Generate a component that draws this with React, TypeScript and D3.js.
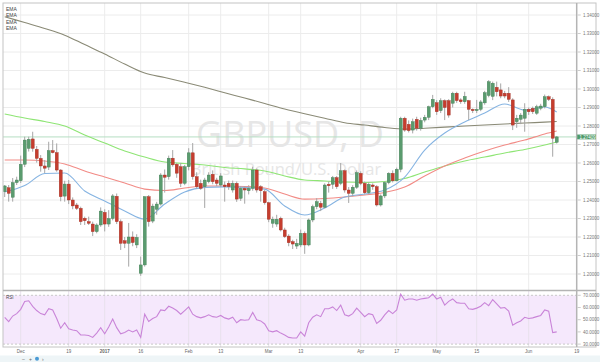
import React from 'react';
import * as d3 from 'd3';

// ---- Daily candles (index 0 = 25 Nov 2016 ... 138 = 12 Jun 2017) ----
const opens = [
  1.2445, 1.2466, 1.2415, 1.2494, 1.2504, 1.2593, 1.2679, 1.2730, 1.2674, 1.2625,
  1.2584, 1.2578, 1.2667, 1.2656, 1.2562, 1.2421, 1.2486, 1.2400, 1.2373, 1.2355,
  1.2301, 1.2283, 1.2270, 1.2229, 1.2265, 1.2333, 1.2270, 1.2300, 1.2420, 1.2283,
  1.2180, 1.2166, 1.2200, 1.2157, 1.2004, 1.2049, 1.2418, 1.2286, 1.2350, 1.2378,
  1.2535, 1.2526, 1.2626, 1.2593, 1.2580, 1.2490, 1.2580, 1.2655, 1.2526, 1.2490,
  1.2472, 1.2499, 1.2539, 1.2508, 1.2481, 1.2481, 1.2490, 1.2454, 1.2490, 1.2409,
  1.2463, 1.2450, 1.2463, 1.2562, 1.2472, 1.2445, 1.2385, 1.2274, 1.2270, 1.2301,
  1.2238, 1.2205, 1.2175, 1.2151, 1.2157, 1.2220, 1.2157, 1.2292, 1.2364, 1.2382,
  1.2361, 1.2485, 1.2485, 1.2521, 1.2490, 1.2558, 1.2454, 1.2436, 1.2469, 1.2544,
  1.2490, 1.2439, 1.2481, 1.2472, 1.2373, 1.2422, 1.2494, 1.2544, 1.2504, 1.2566,
  1.2842, 1.2809, 1.2778, 1.2836, 1.2788, 1.2832, 1.2847, 1.2904, 1.2926, 1.2883,
  1.2937, 1.2937, 1.2923, 1.2977, 1.2941, 1.2931, 1.2937, 1.2890, 1.2883, 1.2890,
  1.2925, 1.2965, 1.2960, 1.3009, 1.2995, 1.2977, 1.2977, 1.2941, 1.2823, 1.2836,
  1.2842, 1.2890, 1.2895, 1.2869, 1.2896, 1.2904, 1.2958, 1.2944, 1.2712,
];
const highs = [
  1.2481, 1.2481, 1.2519, 1.2526, 1.2640, 1.2742, 1.2742, 1.2769, 1.2692, 1.2643,
  1.2616, 1.2715, 1.2724, 1.2706, 1.2567, 1.2504, 1.2508, 1.2414, 1.2384, 1.2364,
  1.2310, 1.2310, 1.2283, 1.2274, 1.2360, 1.2350, 1.2345, 1.2432, 1.2435, 1.2295,
  1.2200, 1.2276, 1.2230, 1.2215, 1.2094, 1.2420, 1.2427, 1.2380, 1.2390, 1.2545,
  1.2565, 1.2640, 1.2670, 1.2600, 1.2600, 1.2590, 1.2680, 1.2708, 1.2550, 1.2510,
  1.2520, 1.2550, 1.2560, 1.2520, 1.2545, 1.2500, 1.2505, 1.2505, 1.2500, 1.2475,
  1.2475, 1.2480, 1.2580, 1.2570, 1.2480, 1.2455, 1.2390, 1.2310, 1.2320, 1.2310,
  1.2250, 1.2215, 1.2185, 1.2190, 1.2240, 1.2230, 1.2300, 1.2375, 1.2410, 1.2395,
  1.2490, 1.2500, 1.2530, 1.2530, 1.2600, 1.2565, 1.2470, 1.2480, 1.2560, 1.2555,
  1.2500, 1.2495, 1.2490, 1.2480, 1.2430, 1.2500, 1.2550, 1.2560, 1.2575, 1.2850,
  1.2850, 1.2830, 1.2840, 1.2850, 1.2845, 1.2860, 1.2910, 1.2968, 1.2940, 1.2950,
  1.2944, 1.2945, 1.2985, 1.2985, 1.2950, 1.2985, 1.2941, 1.2895, 1.2941, 1.2940,
  1.2990, 1.3048, 1.3040, 1.3040, 1.3030, 1.2990, 1.3010, 1.2950, 1.2860, 1.2870,
  1.2923, 1.2900, 1.2905, 1.2915, 1.2920, 1.2970, 1.2965, 1.2955, 1.2746,
];
const lows = [
  1.2416, 1.2391, 1.2391, 1.2481, 1.2492, 1.2578, 1.2662, 1.2661, 1.2602, 1.2553,
  1.2546, 1.2562, 1.2652, 1.2553, 1.2393, 1.2391, 1.2378, 1.2350, 1.2346, 1.2265,
  1.2265, 1.2265, 1.2205, 1.2220, 1.2255, 1.2230, 1.2255, 1.2290, 1.2270, 1.2130,
  1.2140, 1.2040, 1.2150, 1.2140, 1.1990, 1.2040, 1.2256, 1.2275, 1.2320, 1.2370,
  1.2440, 1.2510, 1.2580, 1.2520, 1.2470, 1.2480, 1.2560, 1.2510, 1.2460, 1.2455,
  1.2357, 1.2490, 1.2485, 1.2475, 1.2470, 1.2391, 1.2455, 1.2440, 1.2390, 1.2395,
  1.2380, 1.2430, 1.2450, 1.2440, 1.2391, 1.2375, 1.2280, 1.2250, 1.2255, 1.2230,
  1.2195, 1.2150, 1.2135, 1.2135, 1.2145, 1.2109, 1.2150, 1.2280, 1.2350, 1.2340,
  1.2355, 1.2440, 1.2460, 1.2460, 1.2480, 1.2440, 1.2384, 1.2420, 1.2460, 1.2480,
  1.2430, 1.2430, 1.2455, 1.2365, 1.2365, 1.2410, 1.2485, 1.2495, 1.2500, 1.2550,
  1.2769, 1.2765, 1.2760, 1.2775, 1.2775, 1.2820, 1.2832, 1.2896, 1.2860, 1.2870,
  1.2832, 1.2845, 1.2900, 1.2925, 1.2920, 1.2920, 1.2832, 1.2870, 1.2870, 1.2880,
  1.2915, 1.2955, 1.2940, 1.2960, 1.2950, 1.2950, 1.2930, 1.2778, 1.2790, 1.2810,
  1.2769, 1.2860, 1.2865, 1.2860, 1.2885, 1.2895, 1.2935, 1.2634, 1.2705,
];
const closes = [
  1.2476, 1.2436, 1.2494, 1.2508, 1.2593, 1.2724, 1.2728, 1.2679, 1.2625, 1.2584,
  1.2572, 1.2667, 1.2656, 1.2562, 1.2418, 1.2486, 1.2400, 1.2368, 1.2355, 1.2283,
  1.2288, 1.2274, 1.2229, 1.2265, 1.2340, 1.2270, 1.2300, 1.2422, 1.2283, 1.2166,
  1.2166, 1.2200, 1.2170, 1.2198, 1.2049, 1.2418, 1.2283, 1.2367, 1.2378, 1.2535,
  1.2523, 1.2626, 1.2590, 1.2545, 1.2490, 1.2580, 1.2655, 1.2526, 1.2472, 1.2463,
  1.2508, 1.2535, 1.2499, 1.2490, 1.2530, 1.2472, 1.2472, 1.2490, 1.2405, 1.2463,
  1.2454, 1.2463, 1.2562, 1.2454, 1.2450, 1.2385, 1.2296, 1.2296, 1.2296, 1.2238,
  1.2202, 1.2169, 1.2162, 1.2166, 1.2220, 1.2157, 1.2292, 1.2364, 1.2391, 1.2361,
  1.2481, 1.2477, 1.2521, 1.2472, 1.2558, 1.2454, 1.2436, 1.2469, 1.2548, 1.2490,
  1.2439, 1.2485, 1.2472, 1.2373, 1.2422, 1.2494, 1.2544, 1.2504, 1.2566, 1.2842,
  1.2778, 1.2775, 1.2823, 1.2788, 1.2830, 1.2847, 1.2904, 1.2944, 1.2877, 1.2937,
  1.2900, 1.2859, 1.2977, 1.2937, 1.2931, 1.2960, 1.2890, 1.2883, 1.2890, 1.2930,
  1.2980, 1.3039, 1.3031, 1.2985, 1.2962, 1.2962, 1.2944, 1.2805, 1.2842, 1.2859,
  1.2890, 1.2877, 1.2877, 1.2904, 1.2908, 1.2958, 1.2944, 1.2734, 1.2741,
];

// ---- RSI per candle ----
const rsiValues = [
  52, 48.5, 53, 55, 58.5, 65, 65.5, 61, 57.5, 55,
  54, 59, 58, 51, 43, 47.5, 42.5, 41.5, 41, 37.5,
  37.5, 37, 35.5, 39, 43.5, 38.5, 44, 50.5, 43.5, 38.5,
  39.5, 41.5, 40, 41.5, 35.5, 54.5, 48.5, 51, 52.5, 58,
  57.5, 61, 59.5, 57.5, 54.5, 57.5, 60.5, 54.5, 52.5, 51.5,
  52.5, 54, 52.5, 52, 53.5, 51.5, 50.5, 52, 47.5, 50,
  49.5, 50, 56, 50, 49, 46.5, 41, 40, 41, 39,
  37.5, 35.5, 35, 35, 40, 36.5, 47.5, 52, 54, 52.5,
  59, 59, 60.5, 57.5, 62, 54, 53, 55, 59.5, 56,
  52.5, 55, 54, 47, 49.5, 54, 57.5, 55, 58, 71,
  66, 67, 67, 66, 67, 67.5, 68, 71, 67, 68.5,
  62, 65, 67, 64, 63.5, 63.5, 59, 58.5, 59.5, 61,
  64, 61.5, 66.5, 63, 59.5, 60, 57, 45.5, 47.5, 49,
  52, 51, 51.5, 52.5, 53.5, 58, 57, 39.5, 40,
];

const emaIndex = [0, 5, 10, 15, 20, 25, 30, 35, 40, 45, 50, 55, 60, 65, 70, 75, 80, 85, 90, 95, 100, 105, 110, 115, 120, 125, 130, 135, 138];
const emaGrey = [
  1.3391, 1.3359, 1.3327, 1.3291, 1.3240, 1.3189, 1.3135, 1.3086, 1.3062, 1.3036,
  1.3009, 1.2980, 1.2951, 1.2922, 1.2892, 1.2866, 1.2842, 1.2818, 1.2805, 1.2792,
  1.2783, 1.2788, 1.2794, 1.2800, 1.2805, 1.2811, 1.2816, 1.2821, 1.2824,
];
const emaLime = [
  1.2865, 1.2843, 1.2824, 1.2800, 1.2751, 1.2708, 1.2665, 1.2632, 1.2605, 1.2597,
  1.2589, 1.2576, 1.2568, 1.2557, 1.2530, 1.2508, 1.2503, 1.2497, 1.2495, 1.2500,
  1.2516, 1.2551, 1.2584, 1.2611, 1.2632, 1.2654, 1.2673, 1.2697, 1.2714,
];
const emaRed = [
  1.2616, 1.2616, 1.2611, 1.2595, 1.2557, 1.2524, 1.2492, 1.2459, 1.2451, 1.2465,
  1.2476, 1.2476, 1.2473, 1.2465, 1.2432, 1.2405, 1.2408, 1.2416, 1.2427, 1.2441,
  1.2470, 1.2530, 1.2584, 1.2627, 1.2665, 1.2697, 1.2724, 1.2757, 1.2773,
];
const emaBlue = [
  1.2443, 1.2478, 1.2543, 1.2546, 1.2449, 1.2395, 1.2341, 1.2297, 1.2378, 1.2443,
  1.2468, 1.2471, 1.2468, 1.2459, 1.2368, 1.2319, 1.2357, 1.2416, 1.2432, 1.2454,
  1.2524, 1.2670, 1.2762, 1.2822, 1.2870, 1.2919, 1.2886, 1.2903, 1.2876,
];

// ---- Axes ----
const xTickIndex = [4, 16, 25, 34, 46, 54, 66, 74, 89, 98, 108, 118, 131, 143];
const xTickLabels = ['Dec', '19', '2017', '16', 'Feb', '13', 'Mar', '13', 'Apr', '17', 'May', '15', 'Jun', '19'];
const priceTicks = [1.34, 1.33, 1.32, 1.31, 1.30, 1.29, 1.28, 1.27, 1.26, 1.25, 1.24, 1.23, 1.22, 1.21, 1.20];
const rsiTicks = [70, 60, 50, 40, 30];
const lastPrice = 1.27409;
const legendLabels = ['EMA', 'EMA', 'EMA', 'EMA'];

export default function App() {
  const W = 600, H = 362;
  const left = 3, plotRight = 576.7, frameRight = 596;
  const mainTop = 3, mainBottom = 290;
  const rsiTop = 291, rsiBottom = 347;
  const font = 'Liberation Sans, Arial, sans-serif';

  const x = d3.scaleLinear().domain([0, 143]).range([4.7, 576.7]);
  const y = d3.scaleLinear().domain([1.20, 1.34]).range([274, 15]);
  const yr = d3.scaleLinear().domain([30, 70]).range([344.1, 295.3]);

  const emaLine = d3.line<number>()
    .x((_, i) => x(emaIndex[i]))
    .y((d) => y(d))
    .curve(d3.curveMonotoneX);
  const rsiLine = d3.line<number>().x((_, i) => x(i)).y((d) => yr(d));

  const emas = [
    { data: emaGrey, color: '#8a8a76' },
    { data: emaLime, color: '#8ee574' },
    { data: emaRed, color: '#f28b86' },
    { data: emaBlue, color: '#86b4e2' },
  ];

  return (
    <svg width={W} height={H} style={{ position: 'absolute', left: 0, top: 0, background: '#fff' }} fontFamily={font}>
      <defs>
        <clipPath id="mainClip"><rect x={left} y={mainTop} width={plotRight - left} height={mainBottom - mainTop} /></clipPath>
        <clipPath id="rsiClip"><rect x={left} y={rsiTop} width={plotRight - left} height={rsiBottom - rsiTop} /></clipPath>
      </defs>
      <rect x={0} y={0} width={W} height={H} fill="#fff" />

      {/* main grid */}
      <g clipPath="url(#mainClip)">
        {priceTicks.map((p) => (
          <line key={'h' + p} x1={left} x2={plotRight} y1={y(p)} y2={y(p)} stroke="#ececec" strokeWidth={1} />
        ))}
        {xTickIndex.map((t, k) => (
          <line key={'v' + k} x1={x(t)} x2={x(t)} y1={mainTop} y2={mainBottom} stroke="#ececec" strokeWidth={1} />
        ))}
        {/* watermark */}
        <text x={290} y={147} textAnchor="middle" fontSize={36} fill="#e6e6e6" fontFamily="Open Sans, Liberation Sans, sans-serif">GBPUSD, D</text>
        <text x={286} y={175} textAnchor="middle" fontSize={16.5} fill="#e6e6e6" fontFamily="Open Sans, Liberation Sans, sans-serif">British Pound/U.S. Dollar</text>
        {/* last price line */}
        <line x1={left} x2={plotRight} y1={y(lastPrice)} y2={y(lastPrice)} stroke="#b5dfc2" strokeWidth={1} />
        {/* EMAs */}
        {emas.map((e, k) => (
          <path key={'ema' + k} d={emaLine(e.data) || ''} fill="none" stroke={e.color} strokeWidth={1.1} />
        ))}
        {/* candles */}
        {opens.map((o, i) => {
          const c = closes[i];
          const up = c >= o;
          const yTop = y(Math.max(o, c));
          const yBot = y(Math.min(o, c));
          return (
            <g key={'c' + i}>
              <line x1={x(i)} x2={x(i)} y1={y(highs[i])} y2={y(lows[i])} stroke="#a6a6a6" strokeWidth={1} />
              <rect x={x(i) - 1.5} y={yTop} width={3} height={Math.max(1, yBot - yTop)}
                fill={up ? '#5a9b6e' : '#c53d2e'} stroke={up ? '#3f7d53' : '#a02e22'} strokeWidth={0.4} />
            </g>
          );
        })}
      </g>

      {/* legend */}
      {legendLabels.map((l, k) => (
        <text key={'lg' + k} x={6} y={10.5 + k * 6.6} fontSize={5} fill="#444">{l}</text>
      ))}

      {/* RSI panel */}
      <g clipPath="url(#rsiClip)">
        <rect x={left} y={yr(70)} width={plotRight - left} height={yr(30) - yr(70)} fill="#f5e8fc" />
        {xTickIndex.map((t, k) => (
          <line key={'rv' + k} x1={x(t)} x2={x(t)} y1={rsiTop} y2={rsiBottom} stroke="#e8e0ec" strokeWidth={1} />
        ))}
        <line x1={left} x2={plotRight} y1={yr(70)} y2={yr(70)} stroke="#c8c8c8" strokeDasharray="2,2" />
        <line x1={left} x2={plotRight} y1={yr(30)} y2={yr(30)} stroke="#c8c8c8" strokeDasharray="2,2" />
        <path d={rsiLine(rsiValues) || ''} fill="none" stroke="#c984d8" strokeWidth={1.1} />
      </g>
      <text x={6} y={299} fontSize={4.5} fill="#444">RSI</text>

      {/* frames */}
      <rect x={left} y={mainTop} width={frameRight - left} height={rsiBottom - mainTop} fill="none" stroke="#c4c4c4" strokeWidth={1} />
      <line x1={plotRight} x2={plotRight} y1={mainTop} y2={rsiBottom} stroke="#b4b4b4" strokeWidth={1.5} />
      <line x1={left} x2={frameRight} y1={mainBottom + 0.5} y2={mainBottom + 0.5} stroke="#b4b4b4" strokeWidth={1.5} />

      {/* price axis */}
      {priceTicks.map((p) => (
        <g key={'pt' + p}>
          <line x1={plotRight + 1} x2={plotRight + 4} y1={y(p)} y2={y(p)} stroke="#aaa" strokeWidth={0.6} />
          <text x={583} y={y(p) + 1.6} fontSize={4.5} fill="#777">{p.toFixed(5)}</text>
        </g>
      ))}
      <rect x={plotRight + 0.5} y={y(lastPrice) - 2.4} width={frameRight - plotRight - 0.5} height={4.8} fill="#4f9a6a" />
      <text x={579.5} y={y(lastPrice) + 1.6} fontSize={4.5} fill="#fff">{lastPrice.toFixed(5)}</text>

      {/* RSI axis */}
      {rsiTicks.map((v) => (
        <g key={'rt' + v}>
          <line x1={plotRight + 1} x2={plotRight + 4} y1={yr(v)} y2={yr(v)} stroke="#aaa" strokeWidth={0.6} />
          <text x={583} y={yr(v) + 1.6} fontSize={4.5} fill="#777">{v.toFixed(4)}</text>
        </g>
      ))}

      {/* time axis */}
      {xTickIndex.map((t, k) => (
        <text key={'xt' + k} x={x(t)} y={353} textAnchor="middle" fontSize={4.5} fill="#666"
          fontWeight={xTickLabels[k] === '2017' ? 'bold' : 'normal'}>{xTickLabels[k]}</text>
      ))}

      {/* bottom tool strip */}
      <rect x={0} y={355.5} width={W} height={H - 355.5} fill="#eef5f7" />
      <text x={22} y={360.5} fontSize={5} fill="#666">–</text>
      <text x={29} y={360.5} fontSize={5} fill="#666">+</text>
      <circle cx={37} cy={358.8} r={2} fill="#4a9ad4" />
      <text x={42} y={360.5} fontSize={5} fill="#666">›</text>
    </svg>
  );
}
